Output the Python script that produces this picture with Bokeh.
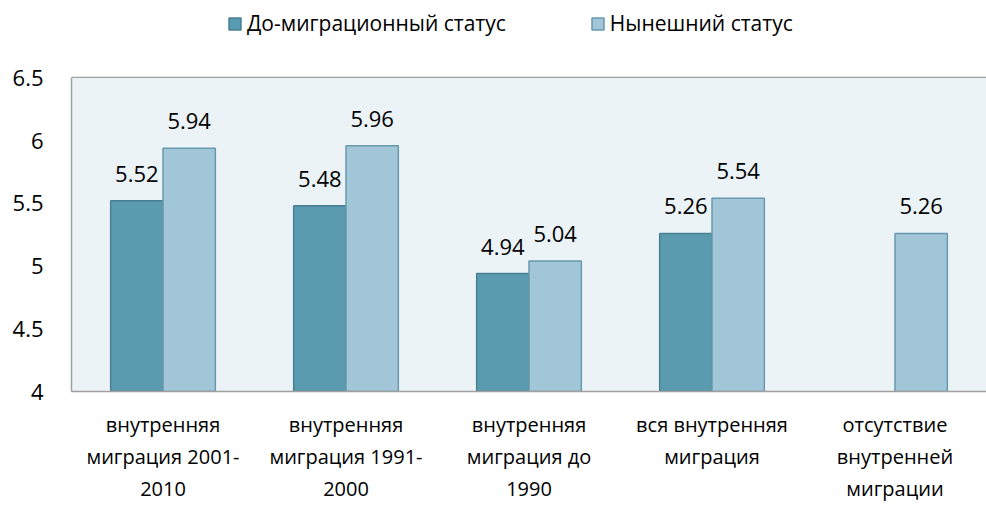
import math
from bokeh.plotting import figure
from bokeh.models import (ColumnDataSource, FactorRange, Range1d, FixedTicker,
                          NumeralTickFormatter, Legend, LegendItem, BoxAnnotation)
from bokeh.transform import dodge
from bokeh.core.properties import value
from bokeh.embed import file_html
from bokeh.resources import INLINE

categories = [
    "внутренняя\nмиграция 2001-\n2010",
    "внутренняя\nмиграция 1991-\n2000",
    "внутренняя\nмиграция до\n1990",
    "вся внутренняя\nмиграция",
    "отсутствие\nвнутренней\nмиграции",
]
pre_status = [5.52, 5.48, 4.94, 5.26, None]
current_status = [5.94, 5.96, 5.04, 5.54, 5.26]
series_names = ["До-миграционный статус", "Нынешний статус"]
y_ticks = [4, 4.5, 5, 5.5, 6, 6.5]
y_min, y_max = 4, 6.5

FONT = "Open Sans"
dark_fill, dark_line = "#5b9bb0", "#4a7f93"
light_fill, light_line = "#a1c6d8", "#6a99ad"
bg = "#ebf3f7"

H, W = 505, 986
frame_top_px, frame_bottom_px = 78, 394   # pixel rows of 6.5 and 4
px_per_unit = (frame_bottom_px - frame_top_px) / (y_max - y_min)
y_end = y_max + frame_top_px / px_per_unit   # extend range so legend fits inside frame

p = figure(x_range=FactorRange(*categories), y_range=Range1d(y_min, y_end),
           width=W, height=H, output_backend="svg", toolbar_location=None,
           min_border_left=71, min_border_right=0, min_border_top=0,
           min_border_bottom=H - frame_bottom_px)
p.background_fill_color = "white"
p.border_fill_color = "white"
p.outline_line_color = None

p.add_layout(BoxAnnotation(bottom=y_min, top=y_max, fill_color=bg, fill_alpha=1,
                           line_color=None, level="underlay"))

def clean(vals):
    return [float("nan") if v is None else v for v in vals]

src_pre = ColumnDataSource(dict(cat=categories, val=clean(pre_status)))
src_cur = ColumnDataSource(dict(cat=categories, val=clean(current_status)))

r1 = p.vbar(x=dodge("cat", -0.143, range=p.x_range), top="val", bottom=y_min, width=0.286,
            source=src_pre, fill_color=dark_fill, line_color=dark_line, line_width=1.5)
r2 = p.vbar(x=dodge("cat", 0.143, range=p.x_range), top="val", bottom=y_min, width=0.286,
            source=src_cur, fill_color=light_fill, line_color=light_line, line_width=1.5)

# value labels
lab_pre = [(c, v) for c, v in zip(categories, pre_status) if v is not None]
lab_cur = [(c, v) for c, v in zip(categories, current_status) if v is not None]
for labs, off in ((lab_pre, -0.143), (lab_cur, 0.143)):
    s = ColumnDataSource(dict(cat=[c for c, _ in labs], val=[v for _, v in labs],
                              txt=[f"{v:.2f}" for _, v in labs]))
    p.text(x=dodge("cat", off, range=p.x_range), y="val", text="txt", source=s,
           text_font=value(FONT), text_font_size="22px", text_color="#000000",
           text_align="center", text_baseline="middle", y_offset=-27)

# grid
p.xgrid.grid_line_color = None
p.ygrid.ticker = FixedTicker(ticks=y_ticks)
p.ygrid.grid_line_color = "#a0a0a0"
p.ygrid.grid_line_width = 1.5

# axes
p.yaxis.ticker = FixedTicker(ticks=y_ticks)
p.yaxis.bounds = (y_min, y_max)
p.yaxis.formatter = NumeralTickFormatter(format="0.[0]")
p.yaxis.major_tick_line_color = None
p.yaxis.minor_tick_line_color = None
p.yaxis.axis_line_color = "#a0a0a0"
p.yaxis.axis_line_width = 1.5
p.yaxis.major_label_standoff = 22
p.yaxis.major_label_text_font = FONT
p.yaxis.major_label_text_font_size = "22px"
p.yaxis.major_label_text_color = "#000000"

p.xaxis.major_tick_line_color = None
p.xaxis.minor_tick_line_color = None
p.xaxis.axis_line_color = "#a0a0a0"
p.xaxis.axis_line_width = 1.5
p.xaxis.major_label_standoff = 13
p.xaxis.major_label_text_font = FONT
p.xaxis.major_label_text_font_size = "20px"
p.xaxis.major_label_text_color = "#000000"

legend = Legend(items=[LegendItem(label=series_names[0], renderers=[r1]),
                       LegendItem(label=series_names[1], renderers=[r2])],
                orientation="horizontal", location=(156, 354),
                label_text_font=FONT, label_text_font_size="21px",
                label_text_color="#000000", glyph_width=15, glyph_height=15,
                label_standoff=5, spacing=84, border_line_color=None,
                background_fill_alpha=0, margin=0, padding=4)
p.add_layout(legend, "center")

open("out.html", "w").write(file_html(p, INLINE))
